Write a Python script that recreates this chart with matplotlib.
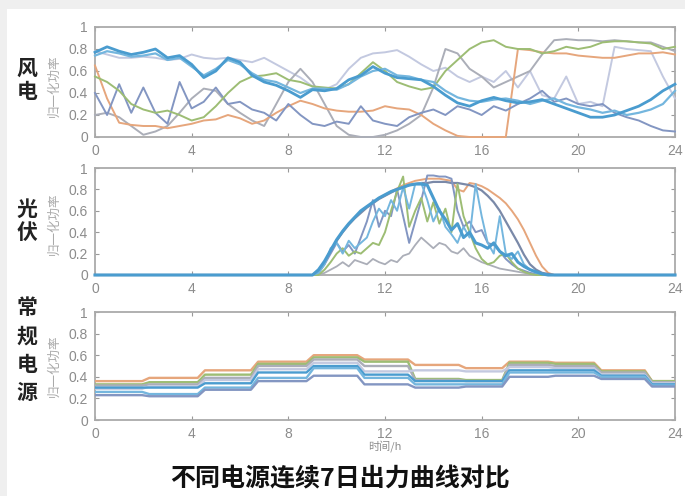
import numpy as np
import matplotlib
matplotlib.use("Agg")
import matplotlib.pyplot as plt
from matplotlib.patches import Rectangle

plt.rcParams['font.family'] = ['Liberation Sans', 'Noto Sans CJK SC', 'DejaVu Sans']

# ---- 风电: 7 days, half-hour samples ----
wind_hours = np.arange(0, 24.01, 0.5)
wind_blue = [0.77, 0.82, 0.78, 0.75, 0.77, 0.8, 0.72, 0.74, 0.66, 0.54,
             0.6, 0.72, 0.68, 0.56, 0.5, 0.47, 0.42, 0.36, 0.43, 0.42,
             0.44, 0.52, 0.56, 0.64, 0.58, 0.54, 0.53, 0.52, 0.46, 0.38,
             0.31, 0.28, 0.33, 0.36, 0.33, 0.31, 0.32, 0.34, 0.3, 0.26,
             0.22, 0.18, 0.18, 0.2, 0.24, 0.28, 0.34, 0.42, 0.48]
wind_lightblue = [0.74, 0.78, 0.76, 0.73, 0.74, 0.76, 0.7, 0.72, 0.64, 0.56,
                  0.62, 0.7, 0.66, 0.58, 0.52, 0.5, 0.45, 0.4, 0.44, 0.44,
                  0.43, 0.48, 0.55, 0.6, 0.62, 0.56, 0.55, 0.52, 0.5, 0.42,
                  0.36, 0.33, 0.32, 0.34, 0.35, 0.33, 0.3, 0.33, 0.35, 0.3,
                  0.27, 0.25, 0.22, 0.24, 0.2, 0.22, 0.25, 0.3, 0.42]
wind_lavender = [0.78, 0.75, 0.72, 0.72, 0.73, 0.72, 0.7, 0.71, 0.75, 0.72,
                 0.71, 0.72, 0.7, 0.68, 0.72, 0.66, 0.6, 0.54, 0.46, 0.43,
                 0.48, 0.62, 0.72, 0.76, 0.77, 0.79, 0.73, 0.66, 0.6, 0.63,
                 0.55, 0.5, 0.55, 0.5, 0.6, 0.45, 0.6, 0.38, 0.35, 0.55,
                 0.3, 0.32, 0.28, 0.82, 0.8, 0.79, 0.78, 0.55, 0.35]
wind_green = [0.55, 0.5, 0.42, 0.3, 0.25, 0.22, 0.24, 0.2, 0.15, 0.18,
              0.28, 0.4, 0.5, 0.55, 0.56, 0.58, 0.52, 0.5, 0.46, 0.45,
              0.44, 0.48, 0.58, 0.68, 0.6, 0.5, 0.46, 0.43, 0.45, 0.6,
              0.7, 0.8, 0.86, 0.88, 0.82, 0.8, 0.8, 0.76, 0.78, 0.82,
              0.8, 0.82, 0.86, 0.87, 0.87, 0.86, 0.85, 0.8, 0.82]
wind_orange = [0.65, 0.35, 0.13, 0.11, 0.1, 0.1, 0.08, 0.1, 0.12, 0.15,
               0.16, 0.2, 0.17, 0.12, 0.15, 0.22, 0.28, 0.33, 0.3, 0.26,
               0.24, 0.23, 0.23, 0.24, 0.28, 0.26, 0.25, 0.2, 0.12, 0.06,
               0.01, 0.0, 0.0, 0.0, 0.0, 0.8, 0.79, 0.77, 0.76, 0.76,
               0.74, 0.73, 0.72, 0.72, 0.74, 0.76, 0.76, 0.77, 0.75]
wind_gray = [0.2, 0.22, 0.18, 0.1, 0.02, 0.05, 0.1, 0.22, 0.35, 0.44,
             0.42, 0.3, 0.22, 0.15, 0.1, 0.3, 0.5, 0.62, 0.5, 0.3,
             0.1, 0.02, 0.0, 0.0, 0.02, 0.06, 0.12, 0.2, 0.45, 0.8,
             0.76, 0.62, 0.55, 0.45, 0.5, 0.55, 0.6, 0.75, 0.88, 0.89,
             0.88, 0.88, 0.87, 0.88, 0.87, 0.86, 0.86, 0.82, 0.78]
wind_slate = [0.4, 0.2, 0.48, 0.22, 0.45, 0.22, 0.12, 0.5, 0.26, 0.32,
              0.45, 0.3, 0.32, 0.25, 0.22, 0.15, 0.3, 0.2, 0.12, 0.1,
              0.14, 0.12, 0.28, 0.15, 0.12, 0.1, 0.18, 0.22, 0.25, 0.2,
              0.28, 0.25, 0.2, 0.28, 0.24, 0.3, 0.35, 0.42, 0.32, 0.35,
              0.3, 0.28, 0.3, 0.22, 0.18, 0.15, 0.1, 0.06, 0.05]

# ---- 光伏: quarter-hour samples between 9:00 and 19:00, zero at night ----
pv_hours = np.arange(9, 19.01, 0.25)
pv_slate_smooth = [0, 0.04, 0.12, 0.22, 0.32, 0.4, 0.47, 0.53, 0.58, 0.63,
                   0.67, 0.71, 0.74, 0.77, 0.8, 0.82, 0.84, 0.85, 0.86, 0.86,
                   0.87, 0.87, 0.87, 0.86, 0.86, 0.85, 0.84, 0.82, 0.79, 0.74,
                   0.68, 0.6, 0.5, 0.4, 0.3, 0.19, 0.1, 0.05, 0.02, 0.01, 0]
pv_orange = [0, 0.04, 0.12, 0.22, 0.32, 0.41, 0.48, 0.54, 0.59, 0.64,
             0.68, 0.72, 0.75, 0.78, 0.81, 0.84, 0.86, 0.88, 0.89, 0.9,
             0.9, 0.9, 0.89, 0.88, 0.8, 0.78, 0.86, 0.85, 0.83, 0.8,
             0.76, 0.72, 0.67, 0.6, 0.52, 0.42, 0.3, 0.18, 0.08, 0.02, 0]
pv_blue = [0, 0.05, 0.13, 0.23, 0.33, 0.41, 0.48, 0.54, 0.6, 0.64,
           0.68, 0.72, 0.75, 0.78, 0.8, 0.82, 0.84, 0.85, 0.85, 0.84,
           0.72, 0.6, 0.52, 0.42, 0.48, 0.35, 0.4, 0.3, 0.28, 0.25,
           0.3, 0.22, 0.18, 0.2, 0.12, 0.08, 0.05, 0.03, 0.01, 0, 0]
pv_slate = [0, 0.02, 0.1, 0.2, 0.3, 0.22, 0.28, 0.2, 0.35, 0.5,
            0.7, 0.45, 0.6, 0.55, 0.8, 0.55, 0.3, 0.5, 0.7, 0.93,
            0.93, 0.92, 0.92, 0.9, 0.6, 0.45, 0.5, 0.4, 0.42, 0.3,
            0.28, 0.22, 0.15, 0.1, 0.06, 0.04, 0.02, 0.01, 0, 0, 0]
pv_green = [0, 0, 0.05, 0.12, 0.2, 0.25, 0.18, 0.22, 0.2, 0.25,
            0.3, 0.28, 0.4, 0.6, 0.78, 0.92, 0.45, 0.6, 0.72, 0.5,
            0.68, 0.48, 0.62, 0.4, 0.85, 0.55, 0.4, 0.25, 0.15, 0.1,
            0.12, 0.18, 0.2, 0.12, 0.06, 0.03, 0.01, 0, 0, 0, 0]
pv_lightblue = [0, 0.02, 0.1, 0.25, 0.3, 0.2, 0.32, 0.25, 0.3, 0.35,
                0.5, 0.62, 0.55, 0.7, 0.6, 0.82, 0.62, 0.85, 0.86, 0.7,
                0.5, 0.62, 0.45, 0.38, 0.3, 0.45, 0.35, 0.85, 0.55, 0.3,
                0.2, 0.55, 0.2, 0.15, 0.22, 0.1, 0.05, 0.02, 0.01, 0, 0]
pv_gray = [0, 0, 0.02, 0.05, 0.08, 0.12, 0.08, 0.14, 0.12, 0.1,
           0.15, 0.12, 0.1, 0.14, 0.12, 0.18, 0.2, 0.28, 0.35, 0.3,
           0.25, 0.3, 0.28, 0.22, 0.2, 0.25, 0.18, 0.15, 0.12, 0.1,
           0.08, 0.06, 0.05, 0.04, 0.03, 0.02, 0.01, 0, 0, 0, 0]

# ---- 常规电源: 12 dispatch blocks per day ----
block_edges = [0, 2.1, 4.4, 6.6, 8.9, 11.0, 13.1, 15.2, 17.0, 18.9, 20.8, 22.9, 24]
conv_orange = [0.36, 0.39, 0.46, 0.54, 0.60, 0.56, 0.51, 0.48, 0.54, 0.53, 0.46, 0.36]
conv_green = [0.33, 0.35, 0.42, 0.52, 0.58, 0.54, 0.38, 0.37, 0.53, 0.52, 0.45, 0.36]
conv_gray = [0.32, 0.33, 0.39, 0.50, 0.56, 0.50, 0.37, 0.36, 0.51, 0.50, 0.44, 0.35]
conv_lavender = [0.29, 0.31, 0.37, 0.47, 0.53, 0.45, 0.46, 0.45, 0.49, 0.48, 0.42, 0.34]
conv_blue = [0.30, 0.30, 0.34, 0.44, 0.50, 0.42, 0.36, 0.36, 0.46, 0.46, 0.41, 0.33]
conv_lightblue = [0.26, 0.24, 0.30, 0.39, 0.48, 0.39, 0.33, 0.33, 0.44, 0.44, 0.40, 0.32]
conv_slate = [0.23, 0.22, 0.28, 0.36, 0.41, 0.33, 0.30, 0.31, 0.40, 0.41, 0.38, 0.31]

BLUE = '#4a9ccf'
LIGHTBLUE = '#74b6de'
LAVENDER = '#c3c9e0'
GREEN = '#9dbd74'
ORANGE = '#e6a67c'
GRAY = '#abaeb8'
SLATE = '#8396c2'


def block_curve(edges, levels, ramp=0.3):
    xs, ys = [], []
    for i, v in enumerate(levels):
        s = edges[i] + (ramp / 2 if i > 0 else 0)
        e = edges[i + 1] - (ramp / 2 if i < len(levels) - 1 else 0)
        xs += [s, e]
        ys += [v, v]
    return xs, ys


W, H = 685, 496
fig = plt.figure(figsize=(W / 100, H / 100), dpi=100, facecolor='#efefef')
fig.patches.append(Rectangle((7 / W, 0), 1, (H - 9) / H, transform=fig.transFigure,
                             facecolor='white', edgecolor='none', zorder=-5))


def make_axes(top, bottom):
    ax = fig.add_axes([95 / W, 1 - bottom / H, 580 / W, (bottom - top) / H])
    ax.set_zorder(2)
    ax.set_xlim(0, 24)
    ax.set_ylim(0, 1)
    ax.set_xticks(range(0, 25, 4))
    ax.set_yticks([0, 0.2, 0.4, 0.6, 0.8, 1])
    ax.set_yticklabels(['0', '0.2', '0.4', '0.6', '0.8', '1'])
    ax.tick_params(direction='in', length=3, width=0.8, colors='#999999',
                   labelcolor='#8c8c8c', labelsize=10, top=True, right=True, pad=5)
    for sp in ax.spines.values():
        sp.set_color('#aaaaaa')
        sp.set_linewidth(1.3)
    return ax


ax1 = make_axes(27, 137)
ax2 = make_axes(168, 275)
ax3 = make_axes(312, 420)

# lines sit above the frame so zero-valued stretches show their colour
wind_series = [(wind_lavender, LAVENDER, 1.4), (wind_gray, GRAY, 1.4),
               (wind_orange, ORANGE, 1.4), (wind_slate, SLATE, 1.4),
               (wind_green, GREEN, 1.4), (wind_lightblue, LIGHTBLUE, 1.6),
               (wind_blue, BLUE, 2.0)]
for vals, c, lw in wind_series:
    ax1.plot(wind_hours, vals, color=c, lw=lw, clip_on=False, zorder=3)

pv_series = [(pv_gray, GRAY, 1.3), (pv_orange, ORANGE, 1.4), (pv_slate_smooth, '#7a89a8', 1.6),
             (pv_slate, SLATE, 1.4), (pv_green, GREEN, 1.4), (pv_lightblue, LIGHTBLUE, 1.4),
             (pv_blue, BLUE, 2.2)]
for vals, c, lw in pv_series:
    x = np.concatenate(([0], pv_hours, [24]))
    y = np.pad(np.asarray(vals, dtype=float), 1)
    ax2.plot(x, y, color=c, lw=lw, clip_on=False, zorder=3)

conv_series = [(conv_orange, ORANGE), (conv_green, GREEN), (conv_gray, GRAY),
               (conv_lavender, LAVENDER), (conv_blue, BLUE), (conv_lightblue, LIGHTBLUE),
               (conv_slate, SLATE)]
for vals, c in conv_series:
    xs, ys = block_curve(block_edges, vals)
    ax3.plot(xs, ys, color=c, lw=1.7, zorder=3)

ax3.set_xlabel('时间/h', family=['Noto Sans CJK SC'], fontsize=8, color='#8c8c8c', labelpad=-1)

# row titles and y labels
cjk = ['Noto Sans CJK SC', 'DejaVu Sans']
fig.text(27 / W, 1 - 80 / H, '风\n电', family=cjk, fontsize=15, fontweight='bold',
         color='#222222', ha='center', va='center', linespacing=1.15)
fig.text(27 / W, 1 - 221 / H, '光\n伏', family=cjk, fontsize=15, fontweight='bold',
         color='#222222', ha='center', va='center', linespacing=1.15)
fig.text(27 / W, 1 - 350 / H, '常\n规\n电\n源', family=cjk, fontsize=15, fontweight='bold',
         color='#222222', ha='center', va='center', linespacing=1.45)
for yc in (86, 224, 366):
    fig.text(54 / W, 1 - yc / H, '归一化功率', family=cjk, fontsize=9, color='#aaaaaa',
             rotation=90, ha='center', va='center')

fig.text(340 / W, 1 - 479 / H, '不同电源连续7日出力曲线对比', family=cjk, fontsize=18,
         fontweight='bold', color='#111111', ha='center', va='center')

fig.savefig('out.png', dpi=100, facecolor=fig.get_facecolor())
